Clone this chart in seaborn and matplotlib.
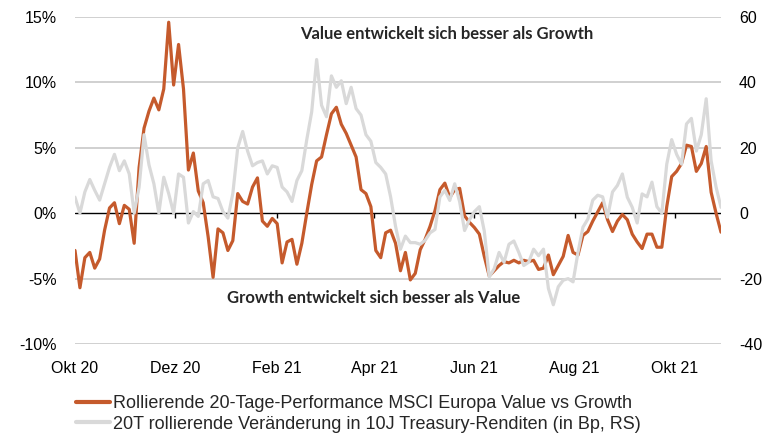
import pandas as pd
import seaborn as sns
import matplotlib.pyplot as plt

value_vs_growth = [
    -2.85, -5.7, -3.4, -3.0, -4.2, -3.5, -1.3, 0.4, 0.8, -0.8,
    0.6, 0.3, -2.3, 3.5, 6.5, 7.8, 8.8, 7.9, 9.5, 14.6,
    9.8, 12.9, 9.5, 3.3, 4.6, 1.7, 0.8, -1.8, -4.9, -1.2,
    -1.5, -2.85, -2.1, 1.5, 0.9, 0.7, 2.0, 2.7, -0.6, -1.0,
    -0.4, -0.8, -3.8, -2.2, -2.0, -3.9, -2.3, 0.0, 2.2, 4.0,
    4.3, 6.0, 7.6, 8.1, 6.8, 6.1, 5.2, 4.3, 1.8, 1.5,
    0.5, -2.85, -3.4, -1.5, -1.3, -2.3, -4.4, -3.0, -5.1, -4.6,
    -2.8, -2.0, -1.0, 0.2, 1.8, 2.3, 1.2, 1.8, 1.9, -0.2,
    -0.7, -1.1, -1.6, -3.3, -4.8, -4.4, -4.0, -3.7, -3.8, -3.6,
    -3.8, -3.6, -3.7, -3.6, -4.3, -4.2, -3.2, -4.7, -4.0, -3.3,
    -1.7, -3.0, -3.2, -1.7, -1.4, -0.6, 0.1, 0.8, -0.5, -1.4,
    -0.6, -0.1, -0.5, -1.6, -2.2, -2.7, -1.6, -1.6, -2.6, -2.6,
    0.5, 2.8, 3.2, 3.8, 5.2, 5.1, 3.2, 3.8, 5.1, 1.6,
    0.0, -1.45,
]

treasury_bp = [
    4.9, 0.0, 6.5, 10.3, 7.0, 4.0, 9.0, 14.0, 18.0, 13.0,
    16.0, 12.0, 0.0, 8.0, 24.0, 14.8, 9.0, 0.0, 11.0, 6.0,
    0.0, 12.0, 11.0, -3.0, 0.5, -1.0, 9.0, 10.0, 5.0, 4.5,
    0.5, -1.5, 6.0, 20.0, 25.0, 19.0, 14.5, 15.5, 16.0, 12.0,
    14.5, 14.0, 8.0, 6.5, 3.6, 10.0, 13.0, 22.5, 31.0, 47.0,
    33.0, 29.5, 42.0, 38.5, 40.5, 33.5, 38.5, 32.0, 30.0, 24.0,
    22.0, 15.5, 14.0, 12.0, 5.0, -4.0, -11.0, -7.0, -9.0, -9.0,
    -9.5, -8.3, -6.0, -5.0, 5.0, 7.0, 3.9, 9.0, 3.5, -5.3,
    -2.0, 0.5, 2.0, -5.5, -19.5, -17.0, -12.0, -15.0, -9.5, -8.5,
    -12.0, -16.0, -15.0, -11.0, -13.0, -11.0, -23.0, -28.0, -22.5, -20.5,
    -20.0, -21.0, -12.0, -4.3, -1.8, 4.0, 5.5, 5.0, -1.2, 6.5,
    8.5, 12.0, 4.9, 1.8, -3.0, 5.9, 5.0, 9.5, 2.0, 0.0,
    15.0, 22.5, 18.0, 15.0, 27.3, 29.0, 19.0, 24.0, 35.0, 16.0,
    8.0, 1.8,
]

datum = pd.date_range('2020-10-01', periods=len(value_vs_growth), freq='3D')

tick_daten = pd.to_datetime(['2020-10-01', '2020-12-01', '2021-02-01', '2021-04-01',
                             '2021-06-01', '2021-08-01', '2021-10-01'])
tick_labels = ['Okt 20', 'Dez 20', 'Feb 21', 'Apr 21', 'Jun 21', 'Aug 21', 'Okt 21']

links_ticks = [-10, -5, 0, 5, 10, 15]
links_labels = ['-10%', '-5%', '0%', '5%', '10%', '15%']
rechts_ticks = [-40, -20, 0, 20, 40, 60]
rechts_labels = ['-40', '-20', '0', '20', '40', '60']

label_orange = 'Rollierende 20-Tage-Performance MSCI Europa Value vs Growth'
label_grau = '20T rollierende Veränderung in 10J Treasury-Renditen (in Bp, RS)'

df = pd.DataFrame({'Datum': datum, 'Value_Growth': value_vs_growth, 'Treasury': treasury_bp})

sns.set_style('white')
plt.rcParams['font.family'] = ['Liberation Sans', 'DejaVu Sans']

orange = '#C55A2C'
grau = '#D9D9D9'

fig = plt.figure(figsize=(7.73, 4.34), dpi=100)
ax = fig.add_axes([75 / 773, 1 - 344 / 434, 646 / 773, 327 / 434])
ax2 = ax.twinx()

# Gitterlinien
for y in links_ticks:
    if y == 0:
        continue
    ax.axhline(y, color='#C8C8C8', lw=1.2, zorder=0)
ax.axhline(0, color='black', lw=1.0, zorder=1)
ax.vlines(tick_daten[1:], -0.35, 0, color='black', lw=1.0, zorder=1)

sns.lineplot(data=df, x='Datum', y='Value_Growth', ax=ax, color=orange, lw=2.3, zorder=3)
sns.lineplot(data=df, x='Datum', y='Treasury', ax=ax2, color=grau, lw=2.3, zorder=3)

ax.set_ylim(-10, 15)
ax2.set_ylim(-40, 60)
ax.set_xlim(datum[0], datum[-1])

ax.set_yticks(links_ticks)
ax.set_yticklabels(links_labels)
ax2.set_yticks(rechts_ticks)
ax2.set_yticklabels(rechts_labels)
ax.set_xticks(tick_daten)
ax.set_xticklabels(tick_labels)

for a in (ax, ax2):
    a.set_xlabel('')
    a.set_ylabel('')
    for s in a.spines.values():
        s.set_visible(False)
    a.tick_params(length=0, labelsize=11.5, colors='black')
ax.tick_params(axis='y', pad=13)
ax2.tick_params(axis='y', pad=13)
ax.tick_params(axis='x', pad=12)

ax.text(0.575, 0.948, 'Value entwickelt sich besser als Growth', transform=ax.transAxes,
        ha='center', va='center', fontsize=12, fontweight='bold', family=['Lato', 'DejaVu Sans'])
ax.text(0.463, 0.142, 'Growth entwickelt sich besser als Value', transform=ax.transAxes,
        ha='center', va='center', fontsize=12, fontweight='bold', family=['Lato', 'DejaVu Sans'])

handles = [plt.Line2D([], [], color=orange, lw=3), plt.Line2D([], [], color=grau, lw=3)]
fig.legend(handles, [label_orange, label_grau], loc='upper left',
           bbox_to_anchor=(76 / 773, 1 - 395 / 434), frameon=False, fontsize=13,
           handlelength=1.9, handletextpad=0.17, labelspacing=0.2, borderpad=0,
           borderaxespad=0)

plt.savefig('out.png', dpi=100)
